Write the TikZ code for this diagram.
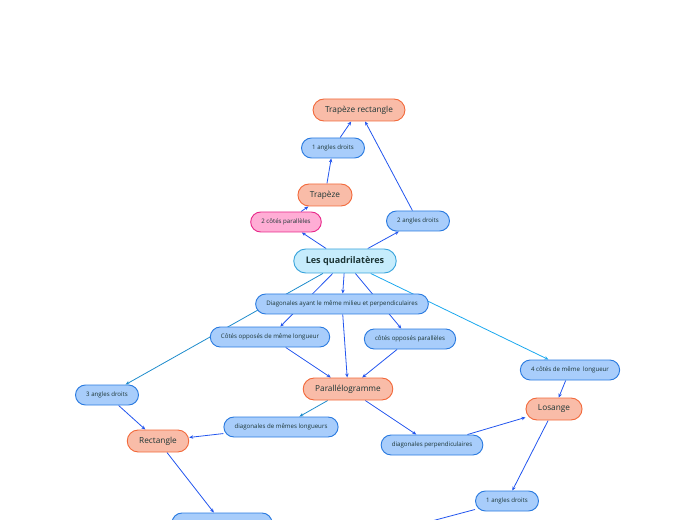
\documentclass[tikz,border=0pt]{standalone}
\usepackage{fontspec}
\setmainfont{Open Sans}
\usetikzlibrary{arrows.meta,backgrounds}

\definecolor{ink}{HTML}{1C3535}
\definecolor{propfill}{HTML}{A8CDFB}
\definecolor{propdraw}{HTML}{2B7BE0}
\definecolor{figfill}{HTML}{F9BCA8}
\definecolor{figdraw}{HTML}{F26A3C}
\definecolor{pinkfill}{HTML}{FFADD5}
\definecolor{pinkdraw}{HTML}{E8288A}
\definecolor{rootfill}{HTML}{C6ECFC}
\definecolor{rootdraw}{HTML}{3AA4DC}
\definecolor{linkblue}{HTML}{2255EE}
\definecolor{linkteal}{HTML}{1E8CCC}
\definecolor{linkcyan}{HTML}{1AA8EE}

\begin{document}
\begin{tikzpicture}[x=0.75pt, y=-0.75pt,
    every node/.style={draw, line width=0.7pt, text=ink, inner ysep=0pt},
    prop/.style={fill=propfill, draw=propdraw, rounded corners=7.5pt, minimum height=15pt, inner xsep=8pt, font=\fontsize{4.6}{5}\selectfont},
    pinkprop/.style={prop, fill=pinkfill, draw=pinkdraw},
    figbox/.style={fill=figfill, draw=figdraw, rounded corners=8.25pt, minimum height=16.5pt, inner xsep=9pt, font=\fontsize{6.2}{7}\selectfont},
    rootbox/.style={fill=rootfill, draw=rootdraw, rounded corners=9pt, minimum height=18pt, inner xsep=9pt, font=\fontsize{6.8}{8}\selectfont\bfseries},
    link/.style={-{Stealth[length=3pt,width=2.6pt]}, line width=0.6pt, draw=linkblue}]

    \useasboundingbox (0, 0) rectangle (696, 520);
    \clip (0, 0) rectangle (696, 520);

    % Node definitions
    \node (quad) at (345, 261) [rootbox] {Les quadrilatères};

    \node (traprect) at (359, 110) [figbox] {Trapèze rectangle};
    \node (angA) at (333, 148) [prop] {1 angles droits};
    \node (trap) at (325, 195) [figbox] {Trapèze};
    \node (par2) at (286, 222) [pinkprop] {2 côtés parallèles};
    \node (ang2) at (418, 221) [prop] {2 angles droits};

    \node (diag) at (342, 304) [prop] {Diagonales ayant le même milieu et perpendiculaires};
    \node (oppl) at (270, 337) [prop] {Côtés opposés de même longueur};
    \node (oppp) at (410, 339) [prop] {côtés opposés parallèles};
    \node (ang3) at (107, 395) [prop] {3 angles droits};
    \node (para) at (348, 389) [figbox] {Parallélogramme};
    \node (cote4) at (570, 370) [prop] {4 côtés de même\ \ longueur};
    \node (diagl) at (281, 427) [prop] {diagonales de mêmes longueurs};
    \node (rect) at (158, 441) [figbox] {Rectangle};
    \node (los) at (554, 409) [figbox] {Losange};
    \node (diagp) at (432, 445) [prop] {diagonales perpendiculaires};
    \node (angB) at (507, 501) [prop] {1 angles droits};
    \node (low) at (222, 523) [prop, minimum width=75pt] {};
    \coordinate (off) at (330, 548);

    % Edge definitions, behind the nodes
    \begin{scope}[on background layer]
    \draw[link] (quad) -- (par2);
    \draw[link] (par2) -- (trap);
    \draw[link] (trap) -- (angA);
    \draw[link] (angA) -- (traprect);
    \draw[link] (quad) -- (ang2);
    \draw[link] (ang2) -- (traprect);

    \draw[link, draw=linkteal] (quad) -- (ang3);
    \draw[link] (quad) -- (oppl);
    \draw[link] (quad) -- (diag);
    \draw[link] (quad) -- (oppp);
    \draw[link, draw=linkcyan] (quad) -- (cote4);

    \draw[link] (diag) -- (para);
    \draw[link] (oppl) -- (para);
    \draw[link] (oppp) -- (para);
    \draw[link, draw=linkteal] (para) -- (diagl);
    \draw[link] (para) -- (diagp);
    \draw[link] (diagl) -- (rect);
    \draw[link] (ang3) -- (rect);
    \draw[link] (rect) -- (low);
    \draw[link] (diagp) -- (los);
    \draw[link] (cote4) -- (los);
    \draw[link] (los) -- (angB);
    \draw[line width=0.6pt, linkblue] (angB) -- (off);
    \end{scope}
\end{tikzpicture}
\end{document}
